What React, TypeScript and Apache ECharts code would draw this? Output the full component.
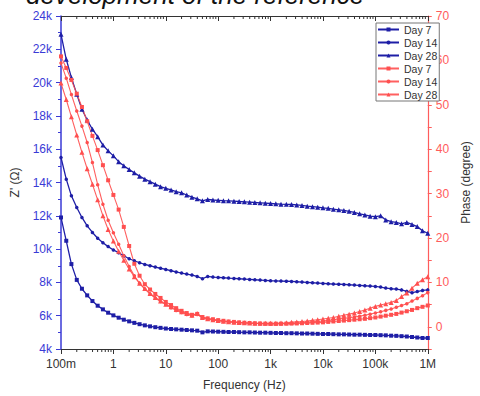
import React, { useEffect, useRef } from 'react';
import * as echarts from 'echarts';

// Frequencies (Hz), 10 points per decade, 100 mHz to 1 MHz
const freq = [
  0.1, 0.126, 0.158, 0.2, 0.251, 0.316, 0.398, 0.501, 0.631, 0.794,
  1, 1.26, 1.58, 2, 2.51, 3.16, 3.98, 5.01, 6.31, 7.94,
  10, 12.6, 15.8, 20, 25.1, 31.6, 39.8, 50.1, 63.1, 79.4,
  100, 126, 158, 200, 251, 316, 398, 501, 631, 794,
  1000, 1260, 1580, 2000, 2510, 3160, 3980, 5010, 6310, 7940,
  10000, 12600, 15800, 20000, 25100, 31600, 39800, 50100, 63100, 79400,
  100000, 126000, 158000, 200000, 251000, 316000, 398000, 501000, 631000, 794000,
  1000000,
];

// Z' (kΩ)
const zDay7 = [
  11.9, 10.5, 9.1, 8.15, 7.62, 7.22, 6.88, 6.6, 6.38, 6.18,
  6.02, 5.88, 5.76, 5.66, 5.57, 5.49, 5.42, 5.36, 5.31, 5.27,
  5.23, 5.2, 5.18, 5.16, 5.14, 5.12, 5.1, 5.0, 5.06, 5.05,
  5.04, 5.03, 5.02, 5.02, 5.01, 5.0, 5.0, 4.99, 4.98, 4.98,
  4.97, 4.96, 4.96, 4.95, 4.95, 4.94, 4.93, 4.93, 4.92, 4.91,
  4.9, 4.9, 4.89, 4.88, 4.88, 4.87, 4.86, 4.86, 4.85, 4.84,
  4.84, 4.83, 4.82, 4.8, 4.79, 4.77, 4.75, 4.72, 4.69, 4.66,
  4.66,
];
const zDay14 = [
  15.5, 14.2, 13.2, 12.5, 11.9, 11.4, 11.0, 10.65, 10.38, 10.15,
  9.95, 9.78, 9.6, 9.42, 9.3, 9.18, 9.08, 9.0, 8.92, 8.85,
  8.78, 8.7, 8.63, 8.56, 8.5, 8.44, 8.36, 8.22, 8.36, 8.32,
  8.3, 8.28, 8.26, 8.24, 8.22, 8.2, 8.18, 8.16, 8.14, 8.12,
  8.1, 8.09, 8.08, 8.07, 8.06, 8.04, 8.02, 8.0, 7.98, 7.96,
  7.94, 7.92, 7.9, 7.89, 7.88, 7.86, 7.84, 7.82, 7.8, 7.78,
  7.76, 7.72, 7.66, 7.62, 7.6, 7.55, 7.46, 7.38, 7.45, 7.52,
  7.55,
];
const zDay28 = [
  22.9, 21.4, 20.3, 19.3, 18.4, 17.75, 17.2, 16.75, 16.25, 15.9,
  15.6, 15.25, 15.0, 14.78, 14.58, 14.38, 14.2, 14.05, 13.9, 13.75,
  13.65, 13.55, 13.45, 13.38, 13.25, 13.12, 13.02, 12.9, 12.98, 12.95,
  12.93, 12.91, 12.9, 12.88, 12.86, 12.84, 12.82, 12.8, 12.78, 12.76,
  12.74, 12.72, 12.7, 12.69, 12.68, 12.65, 12.62, 12.58, 12.55, 12.52,
  12.48, 12.45, 12.4, 12.36, 12.32, 12.27, 12.2, 12.12, 12.05, 11.98,
  11.95, 12.0, 11.75, 11.65, 11.6, 11.52, 11.6, 11.48, 11.35, 11.1,
  10.95,
];

// Phase (degree)
const pDay7 = [
  60.9, 58.3, 55.6, 52.5, 49.5, 46.3, 43.0, 39.8, 36.4, 33.0,
  29.7, 26.4, 22.5, 18.2, 14.2, 11.5, 9.6, 8.4, 7.4, 6.5,
  5.6, 4.9, 4.2, 3.6, 3.1, 2.7, 2.9, 2.2, 1.9, 1.7,
  1.5, 1.35, 1.2, 1.1, 1.0, 0.92, 0.85, 0.8, 0.75, 0.72,
  0.7, 0.7, 0.7, 0.71, 0.72, 0.75, 0.8, 0.85, 0.9, 0.95,
  1.0, 1.1, 1.2, 1.3, 1.4, 1.5, 1.6, 1.7, 1.8, 1.95,
  2.1, 2.3, 2.5, 2.7, 2.9, 3.2, 3.5, 3.8, 4.2, 4.5,
  4.8,
];
const pDay14 = [
  59.4, 56.0, 52.3, 48.6, 45.2, 41.5, 37.0, 32.0, 27.6, 24.0,
  21.2, 18.6, 16.0, 13.6, 11.5, 9.8, 8.5, 7.4, 6.5, 5.7,
  5.0, 4.3, 3.7, 3.2, 2.8, 2.5, 2.8, 2.0, 1.7, 1.5,
  1.35, 1.22, 1.1, 1.0, 0.9, 0.85, 0.8, 0.75, 0.7, 0.67,
  0.65, 0.67, 0.7, 0.75, 0.8, 0.87, 0.95, 1.02, 1.1, 1.2,
  1.3, 1.45, 1.6, 1.75, 1.9, 2.05, 2.2, 2.4, 2.6, 2.85,
  3.1, 3.4, 3.7, 4.0, 4.4, 4.8, 5.2, 5.8, 6.4, 7.0,
  7.7,
];
const pDay28 = [
  54.9, 51.2, 47.3, 43.2, 39.3, 35.6, 32.1, 28.6, 25.0, 21.9,
  19.3, 17.0, 15.0, 13.0, 11.3, 9.8, 8.6, 7.5, 6.6, 5.8,
  5.1, 4.5, 3.9, 3.4, 3.0, 2.6, 3.0, 2.1, 1.8, 1.6,
  1.4, 1.27, 1.15, 1.05, 0.95, 0.9, 0.85, 0.82, 0.8, 0.8,
  0.8, 0.82, 0.85, 0.92, 1.0, 1.1, 1.2, 1.32, 1.45, 1.6,
  1.75, 1.92, 2.1, 2.35, 2.6, 2.85, 3.1, 3.45, 3.8, 4.2,
  4.6, 4.9, 5.2, 5.5, 5.9, 6.8, 7.6, 8.7, 9.8, 10.6,
  11.3,
];

const seriesNames = ['Day 7', 'Day 14', 'Day 28'];
const xTickLabels = ['100m', '1', '10', '100', '1k', '10k', '100k', '1M'];
const decades = [0.1, 1, 10, 100, 1000, 10000, 100000];
const mantissas = [2, 3, 4, 5, 6, 7, 8, 9];

const BLUE = '#1e1ea6';
const BLUE_AXIS = '#3a3ad6';
const RED = '#ff4f4f';
const RED_AXIS = '#ff5c5c';
const FONT = 'Arial, "Liberation Sans", sans-serif';

export default function App() {
  const ref = useRef<HTMLDivElement>(null);
  useEffect(() => {
    if (!ref.current) return;
    const chart = echarts.init(ref.current, undefined, { renderer: 'svg' });
    const minorTicks: number[][] = [];
    decades.forEach((d) => mantissas.forEach((m) => minorTicks.push([d * m, 4])));

    const zSets = [zDay7, zDay14, zDay28];
    const pSets = [pDay7, pDay14, pDay28];
    const symbols = ['rect', 'circle', 'triangle'];
    const sizes = [4, 3.5, 5];

    const series: any[] = [];
    zSets.forEach((vals, k) => {
      series.push({
        name: 'Z ' + seriesNames[k],
        type: 'line',
        xAxisIndex: 0,
        yAxisIndex: 0,
        data: freq.map((f, i) => [f, vals[i]]),
        symbol: symbols[k],
        symbolSize: sizes[k],
        showSymbol: true,
        color: BLUE,
        lineStyle: { color: BLUE, width: 1.3 },
        itemStyle: { color: BLUE },
      });
    });
    pSets.forEach((vals, k) => {
      series.push({
        name: 'P ' + seriesNames[k],
        type: 'line',
        xAxisIndex: 0,
        yAxisIndex: 1,
        data: freq.map((f, i) => [f, vals[i]]),
        symbol: symbols[k],
        symbolSize: sizes[k],
        showSymbol: true,
        color: RED,
        lineStyle: { color: RED, width: 1.1, opacity: 0.9 },
        itemStyle: { color: RED },
      });
    });
    series.push({
      type: 'custom',
      xAxisIndex: 0,
      yAxisIndex: 0,
      silent: true,
      clip: false,
      data: minorTicks,
      renderItem: (params: any, api: any) => {
        const f = api.value(0);
        const pb = api.coord([f, 4]);
        const pt = api.coord([f, 24]);
        return {
          type: 'group',
          children: [
            { type: 'line', shape: { x1: pb[0], y1: pb[1], x2: pb[0], y2: pb[1] + 3 }, style: { stroke: '#333', lineWidth: 1 } },
            { type: 'line', shape: { x1: pt[0], y1: pt[1], x2: pt[0], y2: pt[1] + 3 }, style: { stroke: '#333', lineWidth: 1 } },
          ],
        };
      },
    });

    const xLabel = (v: number) => {
      const idx = Math.round(Math.log10(v)) + 1;
      return xTickLabels[idx] ?? '';
    };

    chart.setOption({
      animation: false,
      backgroundColor: '#fff',
      grid: { left: 61, right: 40, top: 16, bottom: 46, containLabel: false },
      legend: {
        orient: 'vertical',
        left: 376,
        top: 23,
        itemWidth: 21,
        itemHeight: 5,
        itemGap: 2,
        itemTextGap: 3,
        padding: [1, 2, 1, 1],
        borderColor: '#777',
        borderWidth: 1,
        backgroundColor: '#fff',
        textStyle: { fontSize: 10.5, color: '#333', fontFamily: FONT },
        formatter: (n: string) => n.slice(2),
        data: ['Z Day 7', 'Z Day 14', 'Z Day 28', 'P Day 7', 'P Day 14', 'P Day 28'],
      },
      graphic: [
        {
          type: 'text',
          x: 26,
          y: 8,
          style: {
            text: 'development of the reference',
            font: 'italic 26px Arial, "Liberation Sans", sans-serif',
            fill: '#111',
            verticalAlign: 'bottom',
            align: 'left',
          },
        },
      ],
      xAxis: [
        {
          type: 'log',
          logBase: 10,
          min: 0.1,
          max: 1000000,
          splitNumber: 7,
          position: 'bottom',
          axisLine: { show: true, onZero: false, lineStyle: { color: '#333', width: 1.2 } },
          axisTick: { show: true, inside: false, length: 5, lineStyle: { color: '#333' } },
          axisLabel: { formatter: xLabel, color: '#333', fontSize: 12, margin: 9, fontFamily: FONT },
          splitLine: { show: false },
          name: 'Frequency (Hz)',
          nameLocation: 'middle',
          nameGap: 30,
          nameTextStyle: { color: '#333', fontSize: 12, fontFamily: FONT },
        },
        {
          type: 'log',
          logBase: 10,
          min: 0.1,
          max: 1000000,
          splitNumber: 7,
          position: 'top',
          axisLine: { show: true, onZero: false, lineStyle: { color: '#333', width: 1.2 } },
          axisTick: { show: true, inside: true, length: 5, lineStyle: { color: '#333' } },
          axisLabel: { show: false },
          splitLine: { show: false },
        },
      ],
      yAxis: [
        {
          type: 'value',
          min: 4,
          max: 24,
          interval: 2,
          position: 'left',
          axisLine: { show: true, onZero: false, lineStyle: { color: BLUE_AXIS, width: 1.5 } },
          axisTick: { show: true, inside: false, length: 5, lineStyle: { color: BLUE_AXIS } },
          minorTick: { show: true, splitNumber: 2, length: 3, lineStyle: { color: BLUE_AXIS } },
          axisLabel: { formatter: (v: number) => v + 'k', color: BLUE_AXIS, fontSize: 12, margin: 9, fontFamily: FONT },
          splitLine: { show: false },
          name: "Z' (Ω)",
          nameLocation: 'middle',
          nameGap: 40,
          nameRotate: 90,
          nameTextStyle: { color: '#333', fontSize: 12, fontFamily: FONT },
        },
        {
          type: 'value',
          min: -5,
          max: 70,
          interval: 5,
          position: 'right',
          axisLine: { show: true, onZero: false, lineStyle: { color: RED_AXIS, width: 1.2 } },
          axisTick: { show: true, inside: false, length: 4, lineStyle: { color: RED_AXIS } },
          axisLabel: {
            formatter: (v: number) => (Math.round(v) % 10 === 0 ? String(Math.round(v)) : ''),
            color: RED_AXIS,
            fontSize: 12,
            margin: 8,
            fontFamily: FONT,
          },
          splitLine: { show: false },
          name: 'Phase (degree)',
          nameLocation: 'middle',
          nameGap: 25,
          nameRotate: 90,
          nameTextStyle: { color: '#333', fontSize: 12, fontFamily: FONT },
        },
      ],
      series,
    });
    return () => chart.dispose();
  }, []);
  return <div ref={ref} style={{ position: 'fixed', left: 0, top: 0, width: 480, height: 396 }} />;
}
